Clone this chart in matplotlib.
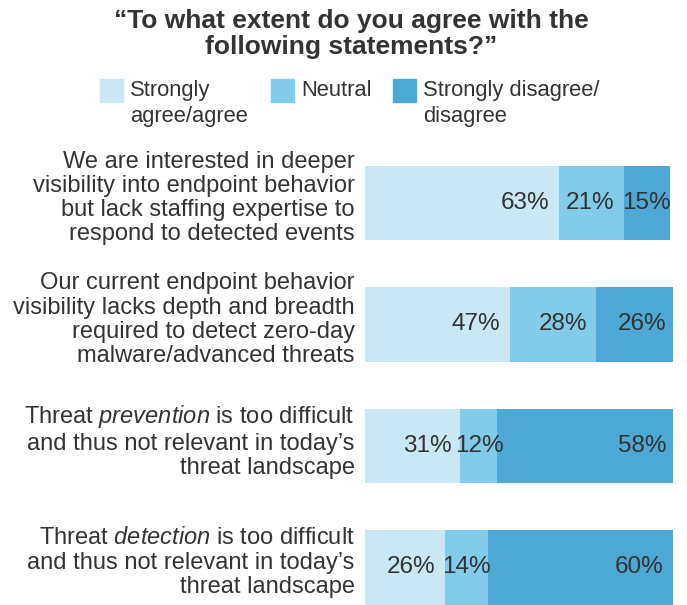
import matplotlib.pyplot as plt
from matplotlib.patches import Rectangle

plt.rcParams['font.family'] = ['Liberation Sans', 'DejaVu Sans']
plt.rcParams['mathtext.fontset'] = 'custom'
plt.rcParams['mathtext.rm'] = 'Liberation Sans'
plt.rcParams['mathtext.it'] = 'Liberation Sans:italic'

# datos
statements = [
    "We are interested in deeper\nvisibility into endpoint behavior\nbut lack staffing expertise to\nrespond to detected events",
    "Our current endpoint behavior\nvisibility lacks depth and breadth\nrequired to detect zero-day\nmalware/advanced threats",
    "Threat $\\mathit{prevention}$ is too difficult\nand thus not relevant in today\u2019s\nthreat landscape",
    "Threat $\\mathit{detection}$ is too difficult\nand thus not relevant in today\u2019s\nthreat landscape",
]
agree = [63, 47, 31, 26]
neutral = [21, 28, 12, 14]
disagree = [15, 26, 58, 60]
series_names = ["Strongly\nagree/agree", "Neutral", "Strongly disagree/\ndisagree"]
colors = ['#CAE8F4', '#83CBEB', '#4EA8D6']
txt = '#333333'

fig = plt.figure(figsize=(6.87, 6.05), dpi=100)
W, H = 687, 605
ax = fig.add_axes([365 / W, 0, 308 / W, 455 / H])

series = [agree, neutral, disagree]
pos = list(range(len(statements)))
left = [0] * len(statements)
for vals, c in zip(series, colors):
    ax.barh(pos, vals, left=left, height=0.61, color=c, linewidth=0)
    for i, v in enumerate(vals):
        right = left[i] + v
        if v < 17:
            ax.text(left[i] + v / 2, i, f"{v}%", ha='center', va='center',
                    fontsize=17.5, color=txt)
        else:
            ax.text(right - 3, i, f"{v}%", ha='right', va='center',
                    fontsize=17.5, color=txt)
    left = [l + v for l, v in zip(left, vals)]

ax.set_xlim(0, 100)
ax.set_ylim(3.309, -0.436)
ax.axis('off')

for i, s in enumerate(statements):
    ax.text(-3.4, i - 0.04, s, ha='right', va='center', fontsize=17,
            color=txt, linespacing=1.13)

fig.text(351 / W, 1 - 34 / H, "\u201cTo what extent do you agree with the\nfollowing statements?\u201d",
         ha='center', va='center', fontsize=19, fontweight='bold', color=txt,
         linespacing=1.08)

# leyenda
box_x = [100, 271, 393]
for bx, name, c in zip(box_x, series_names, colors):
    fig.patches.append(Rectangle((bx / W, 1 - 102 / H), 23 / W, 23 / H,
                                 transform=fig.transFigure, color=c))
    fig.text((bx + 30) / W, 1 - 80 / H, name, ha='left', va='top',
             fontsize=15.8, color=txt, linespacing=1.3)

plt.savefig('out.png', dpi=100)
